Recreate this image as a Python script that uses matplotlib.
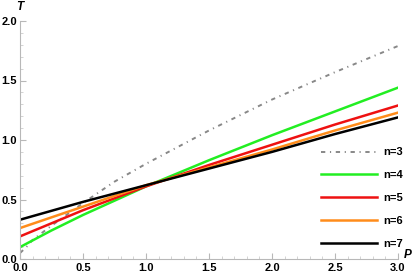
import matplotlib
matplotlib.use("Agg")
import matplotlib.pyplot as plt
from matplotlib.ticker import MultipleLocator

plt.rcParams['font.family'] = ['Liberation Sans', 'DejaVu Sans']

P_gray = [0.0, 0.05, 0.1, 0.25, 0.5, 0.75, 1.0, 1.5, 2.0, 2.5, 3.0]
T_n3 = [0.05, 0.10, 0.16, 0.28, 0.47, 0.65, 0.80, 1.08, 1.34, 1.57, 1.79]

P = [0.0, 0.25, 0.5, 0.75, 1.0, 1.5, 2.0, 2.5, 3.0]
T_n4 = [0.10, 0.24, 0.37, 0.49, 0.61, 0.83, 1.04, 1.24, 1.44]
T_n5 = [0.19, 0.30, 0.41, 0.51, 0.61, 0.79, 0.96, 1.13, 1.29]
T_n6 = [0.26, 0.35, 0.44, 0.53, 0.62, 0.77, 0.92, 1.08, 1.23]
T_n7 = [0.33, 0.405, 0.48, 0.55, 0.62, 0.76, 0.90, 1.05, 1.19]

labels = ["n=3", "n=4", "n=5", "n=6", "n=7"]
xticks = [0.0, 0.5, 1.0, 1.5, 2.0, 2.5, 3.0]
yticks = [0.0, 0.5, 1.0, 1.5, 2.0]

fig = plt.figure(figsize=(4.15, 2.77), dpi=100)
ax = fig.add_axes([20/415, 1-259/277, (398-20)/415, (259-21)/277])

ax.plot(P_gray, T_n3, color='#888888', lw=1.4, dashes=[2.2, 2.4, 0.6, 2.4], label=labels[0])
ax.plot(P, T_n4, color='#22ee22', lw=1.8, label=labels[1])
ax.plot(P, T_n5, color='#ee1111', lw=1.8, label=labels[2])
ax.plot(P, T_n6, color='#ff8c1a', lw=1.8, label=labels[3])
ax.plot(P, T_n7, color='#000000', lw=1.8, label=labels[4])

ax.set_xlim(0, 3.0)
ax.set_ylim(0, 2.0)
ax.set_xticks(xticks)
ax.set_yticks(yticks)
ax.set_xticklabels([f"{v:.1f}" for v in xticks])
ax.set_yticklabels([f"{v:.1f}" for v in yticks])
ax.xaxis.set_minor_locator(MultipleLocator(0.1))
ax.yaxis.set_minor_locator(MultipleLocator(0.1))

for s in ['top', 'right']:
    ax.spines[s].set_visible(False)
for s in ['left', 'bottom']:
    ax.spines[s].set_color('#b8b8b8')
    ax.spines[s].set_linewidth(0.8)

ax.tick_params(which='major', direction='in', length=4, width=0.8, color='#b8b8b8',
               labelsize=8, pad=2)
ax.tick_params(axis='x', which='major', pad=3)
ax.tick_params(which='minor', direction='in', length=2, width=0.6, color='#cccccc')
for lab in ax.get_xticklabels() + ax.get_yticklabels():
    lab.set_fontweight('bold')

fig.text(20/415, 1-7/277, "T", fontsize=8.5, fontweight='bold', style='italic',
         ha='center', va='center')
fig.text(408/415, 1-255/277, "P", fontsize=8.5, fontweight='bold', style='italic',
         ha='center', va='center')

leg = ax.legend(loc='center left', bbox_to_anchor=(311/415, 1-198/277),
                bbox_transform=fig.transFigure, frameon=False, fontsize=8,
                handlelength=5.0, handletextpad=0.6, labelspacing=1.15)
for t in leg.get_texts():
    t.set_fontweight('bold')

fig.savefig("out.png", dpi=100)
